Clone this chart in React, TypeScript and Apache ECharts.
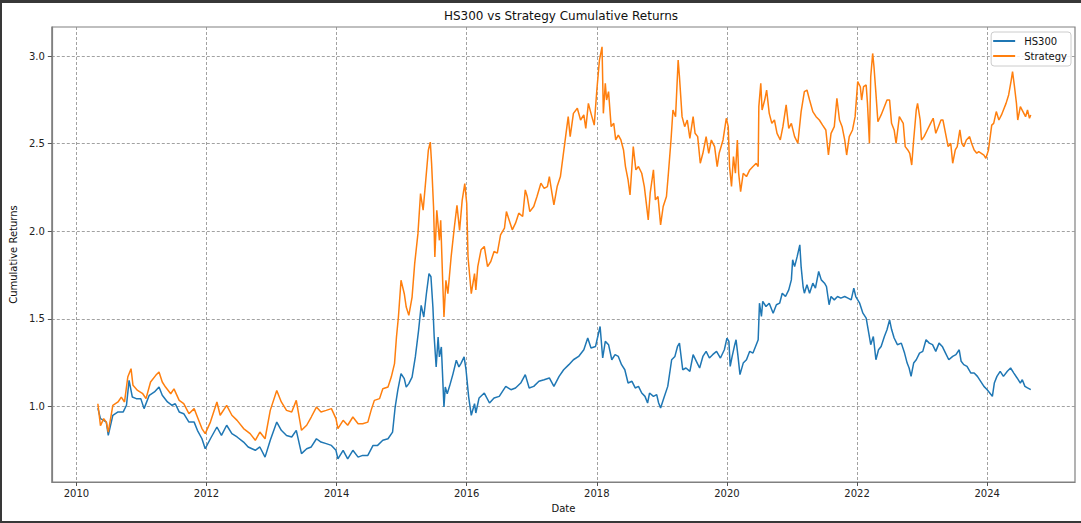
import React, { useEffect, useRef } from "react";
import * as echarts from "echarts";

const TITLE = "HS300 vs Strategy Cumulative Returns";
const xTicks = [2010, 2012, 2014, 2016, 2018, 2020, 2022, 2024];
const yTicks = [1.0, 1.5, 2.0, 2.5, 3.0];

const hsDates = [
  2010.33, 2010.37, 2010.42, 2010.46, 2010.49, 2010.56, 2010.64, 2010.72, 2010.77, 2010.81, 2010.86, 2010.92, 2010.99,
  2011.04, 2011.12, 2011.2, 2011.27, 2011.32, 2011.4, 2011.47, 2011.52, 2011.58, 2011.65, 2011.73, 2011.81, 2011.86, 2011.93, 2011.98,
  2012.06, 2012.16, 2012.23, 2012.31, 2012.39, 2012.47, 2012.57, 2012.64, 2012.75, 2012.82, 2012.9, 2012.98,
  2013.08, 2013.15, 2013.23, 2013.31, 2013.38, 2013.46, 2013.54, 2013.61, 2013.69, 2013.76, 2013.84, 2013.92, 2013.99,
  2014.02, 2014.1, 2014.17, 2014.25, 2014.33, 2014.4, 2014.48, 2014.56, 2014.63, 2014.71, 2014.79, 2014.86, 2014.9, 2014.94, 2014.99,
  2015.04, 2015.07, 2015.11, 2015.16, 2015.21, 2015.26, 2015.3, 2015.34, 2015.38, 2015.42, 2015.45, 2015.48, 2015.5, 2015.53, 2015.56,
  2015.58, 2015.61, 2015.65, 2015.67, 2015.7, 2015.74, 2015.79, 2015.84, 2015.88, 2015.91, 2015.96, 2015.99,
  2016.03, 2016.07, 2016.12, 2016.14, 2016.19, 2016.27, 2016.35, 2016.42, 2016.5, 2016.6, 2016.68, 2016.75, 2016.83, 2016.9, 2016.96,
  2017.03, 2017.11, 2017.19, 2017.27, 2017.34, 2017.42, 2017.49, 2017.57, 2017.64, 2017.72, 2017.8, 2017.86, 2017.91, 2017.98,
  2018.05, 2018.09, 2018.13, 2018.18, 2018.23, 2018.28, 2018.33, 2018.38, 2018.43, 2018.48, 2018.54, 2018.59, 2018.64, 2018.69,
  2018.74, 2018.78, 2018.81, 2018.87, 2018.92, 2018.95, 2018.98,
  2019.03, 2019.09, 2019.15, 2019.2, 2019.24, 2019.27, 2019.32, 2019.37, 2019.43, 2019.48, 2019.53, 2019.58, 2019.63, 2019.68,
  2019.73, 2019.78, 2019.84, 2019.9, 2019.96,
  2020.0, 2020.03, 2020.05, 2020.08, 2020.12, 2020.14, 2020.17, 2020.2, 2020.25, 2020.3, 2020.35, 2020.4, 2020.45, 2020.48, 2020.5,
  2020.53, 2020.55, 2020.6, 2020.65, 2020.71, 2020.76, 2020.81, 2020.85, 2020.9, 2020.95, 2020.99,
  2021.01, 2021.04, 2021.08, 2021.12, 2021.14, 2021.17, 2021.19, 2021.23, 2021.27, 2021.32, 2021.36, 2021.41, 2021.45, 2021.5,
  2021.53, 2021.57, 2021.6, 2021.65, 2021.7, 2021.75, 2021.81, 2021.86, 2021.91, 2021.95, 2021.98,
  2022.04, 2022.09, 2022.14, 2022.18, 2022.21, 2022.25, 2022.29, 2022.33, 2022.37, 2022.42, 2022.46, 2022.5, 2022.53, 2022.57,
  2022.62, 2022.68, 2022.73, 2022.77, 2022.8, 2022.83, 2022.87, 2022.91, 2022.96,
  2023.01, 2023.06, 2023.11, 2023.16, 2023.21, 2023.26, 2023.31, 2023.36, 2023.41, 2023.47, 2023.52, 2023.57, 2023.6, 2023.64,
  2023.69, 2023.75, 2023.8, 2023.85, 2023.9, 2023.95,
  2024.0, 2024.04, 2024.08, 2024.11, 2024.15, 2024.2, 2024.25, 2024.31, 2024.36, 2024.41, 2024.46, 2024.51, 2024.54, 2024.58,
  2024.62, 2024.67,
];
const hsValues = [
  0.99, 0.93, 0.92, 0.91, 0.834, 0.949, 0.968, 0.968, 1.006, 1.148, 1.053, 1.044, 1.044,
  0.987, 1.063, 1.082, 1.11, 1.063, 1.025, 1.006, 1.015, 0.968, 0.958, 0.91, 0.91, 0.863, 0.815, 0.758,
  0.815, 0.882, 0.834, 0.892, 0.844, 0.825, 0.796, 0.768, 0.749, 0.768, 0.71, 0.806,
  0.91, 0.863, 0.834, 0.825, 0.863, 0.73, 0.758, 0.768, 0.815, 0.796, 0.787, 0.777, 0.749,
  0.7, 0.749, 0.7, 0.749, 0.71, 0.72, 0.72, 0.777, 0.777, 0.806, 0.815, 0.853, 0.996, 1.091, 1.187,
  1.158, 1.11, 1.13, 1.167, 1.282, 1.434, 1.577, 1.51, 1.643, 1.758, 1.74, 1.567, 1.396, 1.225, 1.396,
  1.282, 1.339, 0.996, 1.11, 1.072, 1.12, 1.187, 1.263, 1.225, 1.244, 1.282, 1.206,
  1.053, 0.949, 1.015, 0.962, 1.048, 1.076, 1.019, 1.048, 1.057, 1.114, 1.095, 1.105, 1.133, 1.181, 1.105,
  1.114, 1.143, 1.152, 1.162, 1.114, 1.171, 1.209, 1.238, 1.266, 1.285, 1.323, 1.39, 1.333, 1.342,
  1.456, 1.276, 1.371, 1.352, 1.266, 1.295, 1.285, 1.238, 1.209, 1.133, 1.143, 1.105, 1.114, 1.076,
  1.057, 1.019, 1.076, 1.057, 1.067, 1.019, 0.99,
  1.048, 1.114, 1.266, 1.285, 1.342, 1.361, 1.209, 1.219, 1.2, 1.295, 1.257, 1.219, 1.285, 1.314,
  1.276, 1.295, 1.314, 1.276, 1.323,
  1.39, 1.371, 1.228, 1.285, 1.352, 1.38, 1.285, 1.181, 1.247, 1.266, 1.314, 1.304, 1.352, 1.38, 1.589,
  1.513, 1.599, 1.57, 1.589, 1.532, 1.58, 1.589, 1.646, 1.627, 1.665, 1.722,
  1.837, 1.798, 1.856, 1.922, 1.798, 1.684, 1.646, 1.694, 1.646, 1.703, 1.675, 1.77, 1.722, 1.703,
  1.684, 1.58, 1.627, 1.608, 1.627, 1.618, 1.627, 1.618, 1.608, 1.675, 1.627,
  1.589, 1.532, 1.504, 1.418, 1.352, 1.399, 1.266, 1.323, 1.342, 1.399, 1.437, 1.494, 1.44, 1.39,
  1.352, 1.361, 1.304, 1.247, 1.219, 1.171, 1.247, 1.266, 1.304,
  1.314, 1.38, 1.361, 1.352, 1.314, 1.361, 1.342, 1.304, 1.266, 1.285, 1.295, 1.323, 1.257, 1.238,
  1.228, 1.19, 1.19, 1.171, 1.143, 1.114,
  1.095, 1.076, 1.057, 1.133, 1.171, 1.2, 1.171, 1.2, 1.219, 1.19, 1.162, 1.133, 1.152, 1.114,
  1.105, 1.095,
];

const stDates = [
  2010.33, 2010.37, 2010.42, 2010.46, 2010.49, 2010.56, 2010.64, 2010.69, 2010.74, 2010.79, 2010.84, 2010.87, 2010.94,
  2011.02, 2011.07, 2011.14, 2011.22, 2011.27, 2011.32, 2011.37, 2011.45, 2011.5, 2011.58, 2011.65, 2011.73, 2011.81, 2011.86, 2011.93, 2011.98,
  2012.06, 2012.16, 2012.21, 2012.31, 2012.39, 2012.47, 2012.57, 2012.67, 2012.75, 2012.82, 2012.9, 2012.98,
  2013.08, 2013.15, 2013.23, 2013.31, 2013.38, 2013.46, 2013.54, 2013.61, 2013.69, 2013.76, 2013.84, 2013.92, 2013.99,
  2014.02, 2014.1, 2014.17, 2014.25, 2014.33, 2014.4, 2014.48, 2014.53, 2014.58, 2014.66, 2014.71, 2014.79, 2014.84, 2014.89, 2014.92, 2014.95, 2014.99,
  2015.04, 2015.07, 2015.11, 2015.16, 2015.2, 2015.25, 2015.29, 2015.33, 2015.37, 2015.41, 2015.44, 2015.46, 2015.49, 2015.51, 2015.54,
  2015.58, 2015.6, 2015.63, 2015.65, 2015.68, 2015.71, 2015.76, 2015.81, 2015.85, 2015.89, 2015.93, 2015.97,
  2016.0, 2016.02, 2016.07, 2016.12, 2016.14, 2016.17, 2016.22, 2016.27, 2016.32, 2016.37, 2016.42, 2016.47, 2016.52, 2016.58, 2016.61,
  2016.65, 2016.7, 2016.75, 2016.8, 2016.86, 2016.9, 2016.93, 2016.97,
  2017.03, 2017.08, 2017.14, 2017.19, 2017.24, 2017.27, 2017.31, 2017.34, 2017.39, 2017.44, 2017.48, 2017.52, 2017.56, 2017.59,
  2017.64, 2017.7, 2017.75, 2017.8, 2017.83, 2017.87, 2017.91, 2017.96,
  2018.0, 2018.04, 2018.08, 2018.1, 2018.13, 2018.15, 2018.18, 2018.22, 2018.26, 2018.29, 2018.33, 2018.37, 2018.41, 2018.44,
  2018.48, 2018.51, 2018.56, 2018.6, 2018.64, 2018.69, 2018.73, 2018.76, 2018.79, 2018.82, 2018.87, 2018.9, 2018.94, 2018.98,
  2019.02, 2019.07, 2019.1, 2019.14, 2019.17, 2019.21, 2019.25, 2019.27, 2019.31, 2019.35, 2019.39, 2019.43, 2019.48, 2019.51,
  2019.55, 2019.59, 2019.63, 2019.68, 2019.72, 2019.76, 2019.81, 2019.85, 2019.88, 2019.94, 2019.99,
  2020.02, 2020.04, 2020.07, 2020.1, 2020.13, 2020.16, 2020.18, 2020.21, 2020.25, 2020.3, 2020.35, 2020.4, 2020.45, 2020.48,
  2020.49, 2020.52, 2020.54, 2020.58, 2020.61, 2020.65, 2020.69, 2020.73, 2020.77, 2020.82, 2020.86, 2020.91, 2020.95, 2020.99,
  2021.04, 2021.09, 2021.14, 2021.19, 2021.23, 2021.27, 2021.32, 2021.37, 2021.42, 2021.47, 2021.52, 2021.56, 2021.6, 2021.65,
  2021.69, 2021.73, 2021.77, 2021.81, 2021.84, 2021.88, 2021.93, 2021.97,
  2022.01, 2022.05, 2022.07, 2022.1, 2022.14, 2022.16, 2022.19, 2022.21, 2022.24, 2022.26, 2022.29, 2022.32, 2022.37, 2022.42,
  2022.46, 2022.5, 2022.53, 2022.57, 2022.6, 2022.65, 2022.71, 2022.74, 2022.78, 2022.81, 2022.84, 2022.87, 2022.91, 2022.93,
  2022.97, 2022.99, 2023.03, 2023.08, 2023.13, 2023.17, 2023.21, 2023.25, 2023.29, 2023.32, 2023.36, 2023.4, 2023.44, 2023.47,
  2023.51, 2023.54, 2023.58, 2023.61, 2023.64, 2023.68, 2023.73, 2023.76, 2023.8, 2023.84, 2023.87, 2023.91, 2023.95, 2023.98,
  2024.02, 2024.04, 2024.07, 2024.1, 2024.14, 2024.18, 2024.22, 2024.25, 2024.29, 2024.33, 2024.37, 2024.39, 2024.42, 2024.45,
  2024.47, 2024.51, 2024.55, 2024.59, 2024.62, 2024.65, 2024.67,
];
const stValues = [
  1.015, 0.89, 0.93, 0.91, 0.853, 1.005, 1.025, 1.053, 1.025, 1.167, 1.215, 1.12, 1.091,
  1.072, 1.044, 1.139, 1.177, 1.196, 1.139, 1.11, 1.072, 1.1, 1.034, 1.015, 0.958, 0.987, 0.939, 0.873, 0.844,
  0.91, 1.025, 0.949, 1.006, 0.949, 0.92, 0.873, 0.844, 0.806, 0.853, 0.815, 0.977,
  1.091, 1.025, 0.977, 0.968, 1.034, 0.863, 0.892, 0.939, 0.996, 0.968, 0.977, 0.987, 0.93,
  0.873, 0.92, 0.892, 0.939, 0.901, 0.901, 0.91, 0.977, 1.034, 1.044, 1.1, 1.11, 1.167, 1.244, 1.396, 1.51, 1.72,
  1.643, 1.567, 1.52, 1.624, 1.815, 1.986, 2.215, 2.12, 2.29, 2.462, 2.509, 2.386, 2.138, 1.853, 2.12,
  1.948, 2.062, 1.72, 1.51, 1.72, 1.643, 1.853, 2.024, 2.148, 2.005, 2.176, 2.272,
  2.158, 1.853, 1.643, 1.758, 1.665, 1.798, 1.894, 1.913, 1.798, 1.827, 1.884, 1.875, 1.979, 2.017, 2.112,
  2.065, 2.008, 2.046, 2.103, 2.084, 2.236, 2.198, 2.112,
  2.141, 2.198, 2.274, 2.245, 2.255, 2.312, 2.217, 2.15, 2.255, 2.312, 2.426, 2.54, 2.654, 2.54,
  2.673, 2.702, 2.635, 2.664, 2.587, 2.73, 2.673, 2.606,
  2.806, 2.977, 3.053, 2.673, 2.844, 2.749, 2.797, 2.597, 2.616, 2.521, 2.549, 2.521, 2.464, 2.369,
  2.293, 2.207, 2.483, 2.35, 2.369, 2.331, 2.255, 2.16, 2.065, 2.217, 2.35, 2.179, 2.198, 2.036,
  2.141, 2.198, 2.331, 2.521, 2.692, 2.654, 2.977, 2.882, 2.654, 2.597, 2.635, 2.53, 2.654, 2.559,
  2.54, 2.388, 2.445, 2.54, 2.445, 2.521, 2.483, 2.369, 2.445, 2.521, 2.645,
  2.597, 2.369, 2.255, 2.426, 2.331, 2.521, 2.331, 2.226, 2.331, 2.312, 2.35, 2.369, 2.388, 2.369,
  2.711, 2.844, 2.692, 2.749, 2.806, 2.673, 2.616, 2.635, 2.559, 2.521, 2.597, 2.721, 2.587, 2.616,
  2.54, 2.502, 2.683, 2.797, 2.806, 2.749, 2.683, 2.654, 2.635, 2.606, 2.578, 2.435, 2.559, 2.597,
  2.759, 2.635, 2.597, 2.521, 2.435, 2.54, 2.578, 2.654,
  2.854, 2.825, 2.749, 2.825, 2.835, 2.73, 2.502, 2.882, 3.015, 2.939, 2.787, 2.625, 2.664, 2.711,
  2.749, 2.749, 2.616, 2.578, 2.502, 2.654, 2.616, 2.483, 2.464, 2.445, 2.378, 2.521, 2.692, 2.73,
  2.635, 2.521, 2.54, 2.578, 2.616, 2.645, 2.559, 2.597, 2.635, 2.635, 2.559, 2.483, 2.502, 2.388,
  2.464, 2.483, 2.578, 2.502, 2.483, 2.521, 2.54, 2.502, 2.464, 2.445, 2.454, 2.445, 2.435, 2.416,
  2.464, 2.521, 2.606, 2.616, 2.683, 2.635, 2.664, 2.692, 2.73, 2.778, 2.863, 2.911, 2.825, 2.73,
  2.635, 2.711, 2.683, 2.654, 2.692, 2.645, 2.664,
];

const FONT = "DejaVu Sans";

export default function App() {
  const ref = useRef<HTMLDivElement>(null);

  useEffect(() => {
    if (!ref.current) return;
    const chart = echarts.init(ref.current, undefined, { renderer: "svg" });
    const hsData = hsDates.map((d, i) => [d, hsValues[i]]);
    const stData = stDates.map((d, i) => [d, stValues[i]]);

    chart.setOption({
      animation: false,
      backgroundColor: "#ffffff",
      textStyle: { fontFamily: FONT },
      title: {
        text: TITLE,
        left: 561,
        top: 10,
        padding: 0,
        textAlign: "center",
        textStyle: { fontFamily: FONT, fontSize: 12, fontWeight: "normal", color: "#111" },
      },
      legend: {
        right: 10,
        top: 32,
        orient: "vertical",
        selectedMode: false,
        icon: "rect",
        itemWidth: 22,
        itemHeight: 2,
        itemGap: 3,
        padding: [3, 4, 4, 2],
        backgroundColor: "rgba(255,255,255,0.85)",
        borderColor: "#cccccc",
        borderWidth: 1,
        borderRadius: 3,
        textStyle: { fontFamily: FONT, fontSize: 10, color: "#111", lineHeight: 12, padding: [0, 0, 0, 4] },
        data: ["HS300", "Strategy"],
      },
      grid: {
        left: 47,
        top: 27,
        width: 1028,
        height: 455,
        show: true,
        borderColor: "#808080",
        borderWidth: 1.2,
        backgroundColor: "transparent",
      },
      xAxis: {
        type: "value",
        min: 2009.622,
        max: 2025.35,
        name: "Date",
        nameLocation: "middle",
        nameGap: 21,
        nameTextStyle: { fontFamily: FONT, fontSize: 10, color: "#111" },
        axisLine: { show: true, lineStyle: { color: "#808080", width: 1.2 } },
        axisTick: { show: true, length: 4, lineStyle: { color: "#555" }, customValues: xTicks },
        axisLabel: {
          customValues: xTicks,
          margin: 6,
          fontFamily: FONT,
          fontSize: 10,
          color: "#222",
          formatter: (v: number) => String(Math.round(v)),
        },
        splitLine: { show: true, lineStyle: { color: "#8a8a8a", width: 0.8, type: [3, 2] } },
      },
      yAxis: {
        type: "value",
        min: 0.568,
        max: 3.166,
        name: "Cumulative Returns",
        nameLocation: "middle",
        nameGap: 28,
        nameTextStyle: { fontFamily: FONT, fontSize: 10, color: "#111" },
        axisLine: { show: true, lineStyle: { color: "#808080", width: 1.2 } },
        axisTick: { show: true, length: 4, lineStyle: { color: "#555" }, customValues: yTicks },
        axisLabel: {
          customValues: yTicks,
          margin: 7,
          fontFamily: FONT,
          fontSize: 10,
          color: "#222",
          formatter: (v: number) => v.toFixed(1),
        },
        splitLine: { show: true, lineStyle: { color: "#8a8a8a", width: 0.8, type: [3, 2] } },
      },
      graphic: [
        { type: "rect", shape: { x: 0, y: 0, width: 1081, height: 3 }, style: { fill: "#383838" }, silent: true },
        { type: "rect", shape: { x: 0, y: 0, width: 2, height: 523 }, style: { fill: "#383838" }, silent: true },
        { type: "rect", shape: { x: 0, y: 521, width: 1081, height: 2 }, style: { fill: "#383838" }, silent: true },
      ],
      series: [
        {
          name: "HS300",
          type: "line",
          data: hsData,
          showSymbol: false,
          symbol: "none",
          color: "#1f77b4",
          lineStyle: { color: "#1f77b4", width: 1.5 },
        },
        {
          name: "Strategy",
          type: "line",
          data: stData,
          showSymbol: false,
          symbol: "none",
          color: "#ff7f0e",
          lineStyle: { color: "#ff7f0e", width: 1.5 },
        },
      ],
    });
    return () => chart.dispose();
  }, []);

  return (
    <div
      ref={ref}
      style={{ position: "absolute", left: 0, top: 0, width: 1081, height: 523, background: "#fff" }}
    />
  );
}
